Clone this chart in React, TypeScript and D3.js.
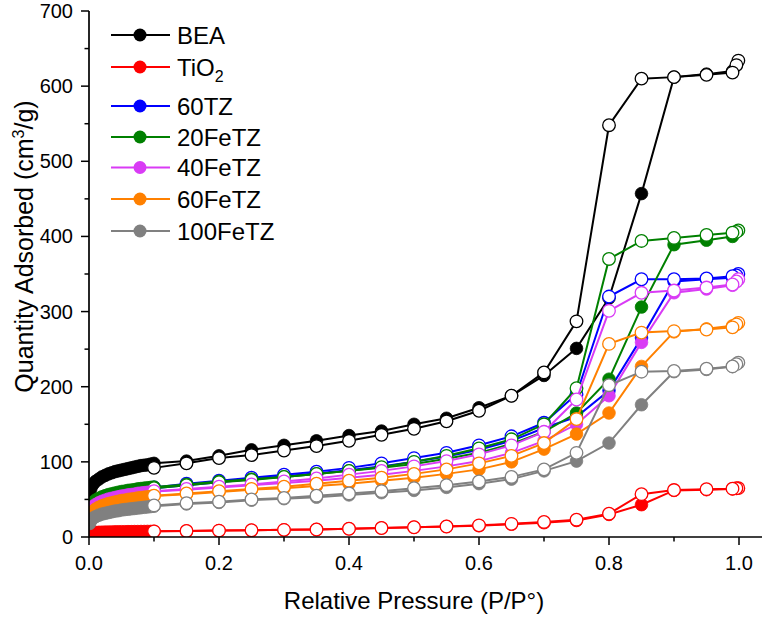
import React from "react";
import * as d3 from "d3";

const adsP = [0.001,0.003,0.006,0.01,0.015,0.02,0.025,0.03,0.035,0.04,0.045,0.05,0.055,0.06,0.065,0.07,0.075,0.08,0.085,0.09,0.095,0.1,0.15,0.2,0.25,0.3,0.35,0.4,0.45,0.5,0.55,0.6,0.65,0.7,0.75,0.8,0.85,0.9,0.95,0.99];
const desP = [0.999,0.996,0.99,0.95,0.9,0.85,0.8,0.75,0.7,0.65,0.6,0.55,0.5,0.45,0.4,0.35,0.3,0.25,0.2,0.15,0.1];

const beaAds = [60,65,70,74,77,80,82,84,85.5,87,88,89,90,91,92,93,94,95,95.5,96,97,98,101,108,116,122,128,135,141,150,158,172,188,215,251,318,457,612,616,620];
const beaDes = [634,628,618,615,612,610,548,287,219,188,168,154,144,136,128,121,115,109,105,98,92];
const tio2Ads = [3,4.5,5.5,6,6.2,6.4,6.5,6.6,6.7,6.8,6.9,7,7,7.1,7.1,7.2,7.2,7.3,7.3,7.4,7.4,7.5,8,8.5,9,9.5,10,11,12,13,14,15,17,19,22,30,43,62,63,64];
const tio2Des = [65,64.8,64.3,63.6,62.5,57,31,23,20,17.5,15.5,14,13,12,11,10,9.5,9,8.5,8,7.5];
const tz60Ads = [36,40.5,44.5,47.5,50,52,53.5,55,56,57,58,59,59.5,60.5,61,61.5,62.5,63,63.5,64,64.5,65,69,73,77,81,85,89,94,100,107,116,128,145,160,195,265,340,343,345];
const tz60Des = [350,348,347,344,343,343,320,190,152,134,122,112,105,98,92,87,83,79,75,71,66];
const fe20Ads = [38,42,46,49,51.5,53.5,55,56.5,57.5,58.5,59.5,60.5,61,62,62.5,63,64,64.5,65,65.5,66,66.5,70,74,77,80,84,88,92,97,104,112,124,140,165,210,306,389,395,400];
const fe20Des = [408,406,405,402,398,394,370,198,150,130,118,108,100,93,88,84,80,76,73,69,65];
const fe40Ads = [32,36,40,43,45.5,47.5,49,50.5,51.5,52.5,53.5,54.5,55,56,56.5,57,58,58.5,59,59.5,60,60.5,63,66,69,72,75,79,83,88,94,101,112,128,150,188,259,325,330,335];
const fe40Des = [343,340,336,332,328,325,301,183,140,122,110,101,94,88,83,78,74,70,67,64,61];
const fe60Ads = [26,30,34,37,39.5,41.5,43,44.5,45.5,46.5,47.5,48.5,49,50,50.5,51,52,52.5,53,53.5,54,54.5,57,60,63,65,68,71,75,79,84,90,100,117,137,165,227,273,277,281];
const fe60Des = [285,283,279,276,274,272,257,157,125,108,98,90,84,79,75,71,67,64,61,58,55];
const fe100Ads = [18,22,25,27,29,30.5,31.5,32.5,33.5,34.5,35,36,36.5,37,37.5,38,38.5,39,39.5,40,40.5,41,44,46,49,51,53,56,59,62,66,71,77,88,101,125,176,220,223,227];
const fe100Des = [232,230,227,224,221,220,202,112,90,80,74,69,65,61,58,55,52,50,47,45,42];

const seriesNames = ["BEA", "TiO2", "60TZ", "20FeTZ", "40FeTZ", "60FeTZ", "100FeTZ"];
const seriesColors = ["#000000", "#ff0000", "#0000ff", "#008000", "#d93bf5", "#ff8000", "#808080"];
const adsData = [beaAds, tio2Ads, tz60Ads, fe20Ads, fe40Ads, fe60Ads, fe100Ads];
const desData = [beaDes, tio2Des, tz60Des, fe20Des, fe40Des, fe60Des, fe100Des];

const xMajor = [0, 0.2, 0.4, 0.6, 0.8, 1.0];
const xMinor = [0.1, 0.3, 0.5, 0.7, 0.9];
const yMajor = [0, 100, 200, 300, 400, 500, 600, 700];
const yMinor = [50, 150, 250, 350, 450, 550, 650];

const FONT = "'Liberation Sans', Arial, Helvetica, sans-serif";

export default function App() {
  const W = 762, H = 618;
  const x = d3.scaleLinear().domain([0, 1]).range([89, 739]);
  const y = d3.scaleLinear().domain([0, 700]).range([537, 11]);
  const line = d3.line<[number, number]>().x(d => x(d[0])).y(d => y(d[1]));
  const R = 6.3;

  const legendY = [35, 67, 106, 137, 167.5, 199, 231];

  return (
    <svg width={W} height={H} style={{ position: "absolute", left: 0, top: 0, background: "#fff" }} fontFamily={FONT}>
      <defs>
        <clipPath id="plot">
          <rect x={x(0)} y={0} width={W - x(0)} height={y(0)} />
        </clipPath>
      </defs>
      <rect x={0} y={0} width={W} height={H} fill="#fff" />
      <g clipPath="url(#plot)">
        {seriesNames.map((name, i) => {
          const ads = adsP.map((p, k) => [p, adsData[i][k]] as [number, number]);
          const des = desP.map((p, k) => [p, desData[i][k]] as [number, number]);
          const c = seriesColors[i];
          return (
            <g key={name}>
              <path d={line(ads) || ""} fill="none" stroke={c} strokeWidth={2} />
              {ads.map((d, k) => (
                <circle key={"a" + k} cx={x(d[0])} cy={y(d[1])} r={R} fill={c} stroke={c} strokeWidth={0.8} />
              ))}
              <path d={line(des) || ""} fill="none" stroke={c} strokeWidth={2} />
              {des.map((d, k) => (
                <circle key={"d" + k} cx={x(d[0])} cy={y(d[1])} r={R} fill="#fff" stroke={c} strokeWidth={1.3} />
              ))}
            </g>
          );
        })}
      </g>

      {/* axes */}
      <line x1={x(0)} x2={W} y1={y(0)} y2={y(0)} stroke="#000" strokeWidth={1.7} />
      <line x1={x(0)} x2={x(0)} y1={y(0) + 0.85} y2={y(700)} stroke="#000" strokeWidth={1.7} />
      {xMajor.map(v => (
        <g key={"xm" + v}>
          <line x1={x(v)} x2={x(v)} y1={y(0)} y2={y(0) + 8} stroke="#000" strokeWidth={1.5} />
          <text x={x(v)} y={570} textAnchor="middle" fontSize={20} fill="#000">{v.toFixed(1)}</text>
        </g>
      ))}
      {xMinor.map(v => (
        <line key={"xn" + v} x1={x(v)} x2={x(v)} y1={y(0)} y2={y(0) + 4.5} stroke="#000" strokeWidth={1.5} />
      ))}
      {yMajor.map(v => (
        <g key={"ym" + v}>
          <line x1={x(0) - 8} x2={x(0)} y1={y(v)} y2={y(v)} stroke="#000" strokeWidth={1.5} />
          <text x={73} y={y(v)} dy="0.35em" textAnchor="end" fontSize={20} fill="#000">{v}</text>
        </g>
      ))}
      {yMinor.map(v => (
        <line key={"yn" + v} x1={x(0) - 4.5} x2={x(0)} y1={y(v)} y2={y(v)} stroke="#000" strokeWidth={1.5} />
      ))}

      <text x={414} y={609} textAnchor="middle" fontSize={24} fill="#000">Relative Pressure (P/P°)</text>
      <text transform={`translate(33, 246.5) rotate(-90)`} textAnchor="middle" fontSize={25} fill="#000">
        Quantity Adsorbed (cm<tspan dy={-9} fontSize={16}>3</tspan><tspan dy={9}>/g)</tspan>
      </text>

      {/* legend */}
      {seriesNames.map((name, i) => (
        <g key={"lg" + name}>
          <line x1={111} x2={170} y1={legendY[i]} y2={legendY[i]} stroke={seriesColors[i]} strokeWidth={2} />
          <circle cx={140} cy={legendY[i]} r={6.5} fill={seriesColors[i]} />
          {name === "TiO2" ? (
            <text x={177} y={legendY[i]} dy="0.36em" fontSize={24} fill="#000">
              TiO<tspan dy={6} fontSize={16}>2</tspan>
            </text>
          ) : (
            <text x={177} y={legendY[i]} dy="0.36em" fontSize={24} fill="#000">{name}</text>
          )}
        </g>
      ))}
    </svg>
  );
}
